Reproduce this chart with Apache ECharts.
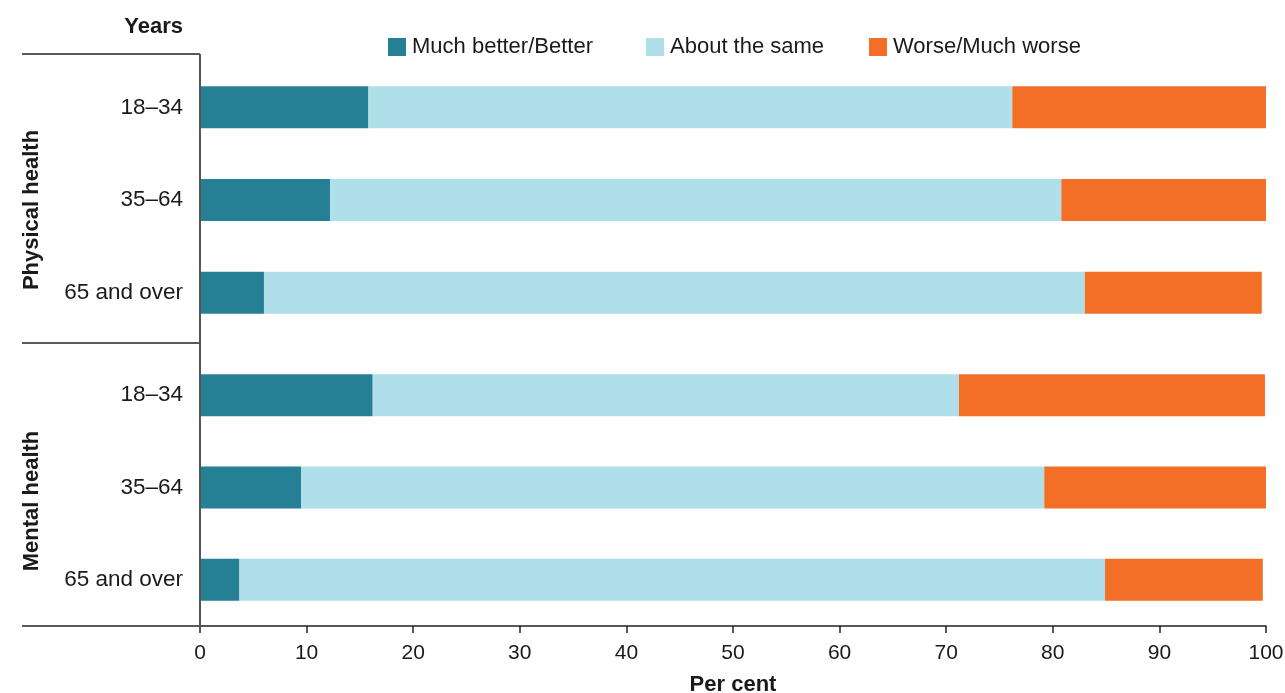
<!DOCTYPE html>
<html><head><meta charset="utf-8">
<script src="https://cdn.jsdelivr.net/npm/echarts@6/dist/echarts.min.js"></script>
<style>html,body{margin:0;padding:0;background:#fff}#c{width:1285px;height:693px}</style>
</head><body><div id="c"></div>
<script>
const categories = ['18–34', '35–64', '65 and over'];
const groupNames = ['Physical health', 'Mental health'];
const seriesNames = ['Much better/Better', 'About the same', 'Worse/Much worse'];
const physicalBetter = [15.8, 12.2, 6.0];
const physicalSame = [60.4, 68.6, 77.0];
const physicalWorse = [23.8, 19.2, 16.6];
const mentalBetter = [16.2, 9.5, 3.7];
const mentalSame = [55.0, 69.7, 81.2];
const mentalWorse = [28.7, 20.8, 14.8];
const xMin = 0, xMax = 100, xInterval = 10;
const colors = ['#257f95', '#afdfe9', '#f36f26'];
const FONT = 'Liberation Sans, Arial, sans-serif';

const groupData = [
  [physicalBetter, physicalSame, physicalWorse],
  [mentalBetter, mentalSame, mentalWorse]
];

const series = [];
groupData.forEach((g, gi) => {
  g.forEach((vals, si) => {
    series.push({
      name: seriesNames[si], type: 'bar', stack: 'g' + gi,
      xAxisIndex: gi, yAxisIndex: gi, barWidth: 42,
      itemStyle: { color: colors[si] },
      data: vals
    });
  });
});

const legendLefts = [383, 641, 864];
const legends = seriesNames.map((n, i) => ({
  data: [n], left: legendLefts[i], top: 31, itemWidth: 18, itemHeight: 18,
  icon: 'rect',
  textStyle: { fontSize: 22, color: '#1a1a1a', fontFamily: FONT, padding: [0, 0, 0, 1] }
}));

const chart = echarts.init(document.getElementById('c'), null, { renderer: 'canvas' });
const lineStyle = { stroke: '#222', lineWidth: 1.5 };
chart.setOption({
  animation: false,
  textStyle: { fontFamily: FONT },
  color: colors,
  legend: legends,
  grid: [
    { left: 200, width: 1066, top: 61, height: 278, containLabel: false, outerBoundsMode: 'none' },
    { left: 200, width: 1066, top: 349, height: 277, containLabel: false, outerBoundsMode: 'none' }
  ],
  xAxis: [
    { gridIndex: 0, type: 'value', min: xMin, max: xMax, interval: xInterval, show: false },
    { gridIndex: 1, type: 'value', min: xMin, max: xMax, interval: xInterval,
      splitLine: { show: false },
      axisLine: { show: true, lineStyle: { color: '#222', width: 1.5 } },
      axisTick: { show: true, length: 7, lineStyle: { color: '#222', width: 1.5 } },
      axisLabel: { fontSize: 21, color: '#1a1a1a', margin: 17, fontFamily: FONT },
      name: 'Per cent', nameLocation: 'middle', nameGap: 48,
      nameTextStyle: { fontSize: 22, fontWeight: 'bold', color: '#1a1a1a', fontFamily: FONT } }
  ],
  yAxis: [0, 1].map(i => ({
    gridIndex: i, type: 'category', data: categories, inverse: true,
    axisLine: { show: false }, axisTick: { show: false },
    axisLabel: { fontSize: 22.5, color: '#1a1a1a', margin: 17, fontFamily: FONT }
  })),
  graphic: [
    { type: 'line', shape: { x1: 22, y1: 54, x2: 200, y2: 54 }, style: lineStyle },
    { type: 'line', shape: { x1: 22, y1: 343, x2: 200, y2: 343 }, style: lineStyle },
    { type: 'line', shape: { x1: 22, y1: 626, x2: 200, y2: 626 }, style: lineStyle },
    { type: 'line', shape: { x1: 200, y1: 54, x2: 200, y2: 627 }, style: { stroke: '#555', lineWidth: 2 }, z: 10 },
    { type: 'text', x: 183, y: 27, style: { text: 'Years', align: 'right', verticalAlign: 'middle',
      font: 'bold 22px ' + FONT, fill: '#1a1a1a' } },
    { type: 'text', x: 32, y: 210, rotation: Math.PI / 2, style: { text: groupNames[0], align: 'center', verticalAlign: 'middle',
      font: 'bold 22px ' + FONT, fill: '#1a1a1a' } },
    { type: 'text', x: 32, y: 501, rotation: Math.PI / 2, style: { text: groupNames[1], align: 'center', verticalAlign: 'middle',
      font: 'bold 22px ' + FONT, fill: '#1a1a1a' } }
  ],
  series: series
});
</script>
</body></html>
